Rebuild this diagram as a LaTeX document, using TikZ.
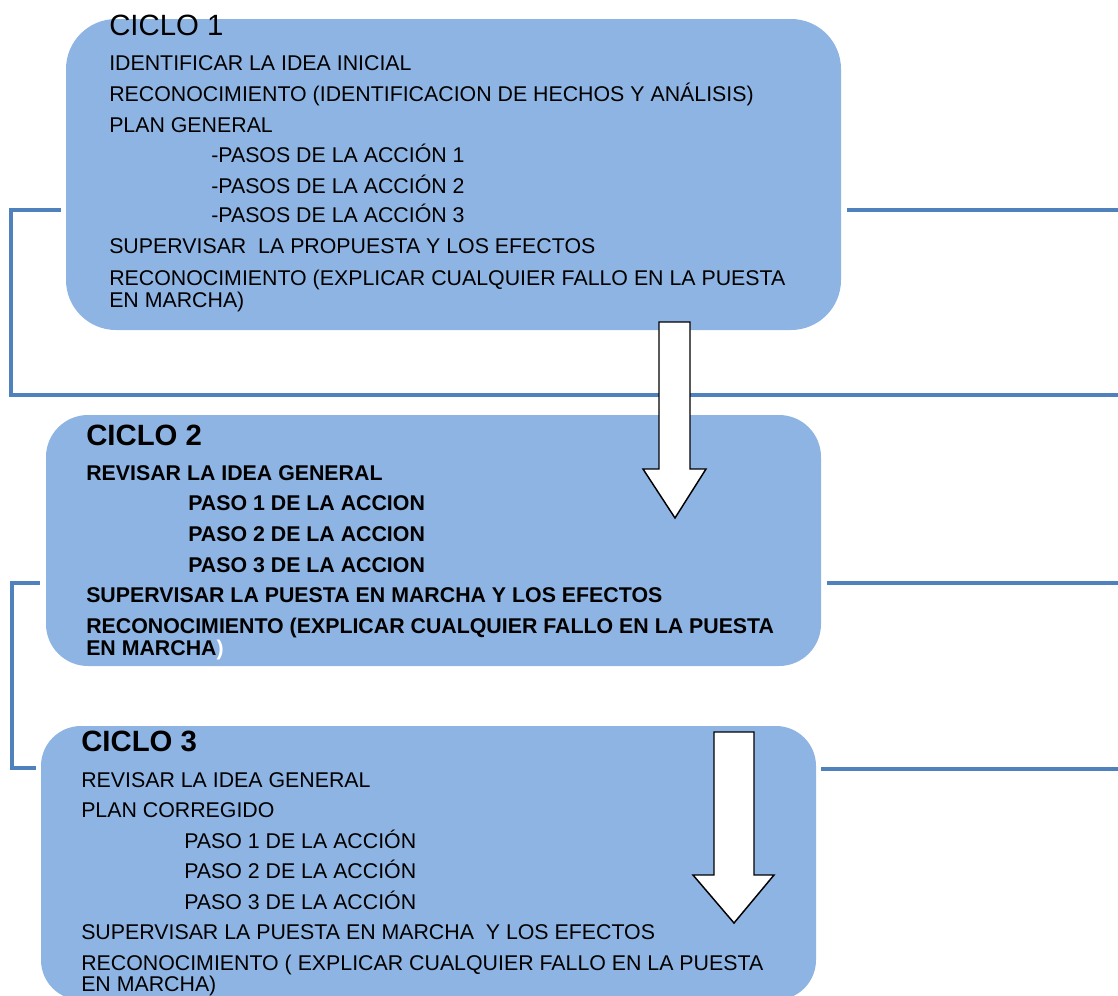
\documentclass[tikz,border=0pt]{standalone}
\usepackage{fontspec}
\setmainfont{Liberation Sans}
\definecolor{cajaazul}{HTML}{8EB4E3}
\definecolor{barraazul}{HTML}{4F81BD}

\begin{document}
\begin{tikzpicture}[x=0.75pt, y=-0.75pt,
        caja/.style={fill=cajaazul, draw=none, minimum width=581.25pt},
        barra/.style={draw=barraazul, line width=3.6pt},
        flecha/.style={fill=white, draw=black, line width=1.1pt, line join=miter},
        titulo/.style={anchor=base west, inner sep=0pt, font=\fontsize{22}{26}\selectfont},
        linea/.style={anchor=base west, inner sep=0pt, font=\fontsize{16}{19}\selectfont}]
            \useasboundingbox (0,0) rectangle (1118,996);

            % cajas de los ciclos
            \node[caja, rounded corners=37.5pt, minimum height=233.25pt] (ciclo1) at (453.5,174.5) {};
            \node[caja, rounded corners=31.5pt, minimum height=188.25pt] (ciclo2) at (433.5,540.5) {};
            \node[caja, rounded corners=30pt, minimum height=205.5pt] (ciclo3) at (428.5,863) {};

            % textos
            \node[titulo] (tit1) at (109,35) {CICLO 1};
            \foreach \y/\x/\t [count=\i] in {
                    70/109/IDENTIFICAR LA IDEA INICIAL,
                    101/109/RECONOCIMIENTO (IDENTIFICACION DE HECHOS Y ANÁLISIS),
                    132/109/PLAN GENERAL,
                    162/211/-PASOS DE LA ACCIÓN 1,
                    193/211/-PASOS DE LA ACCIÓN 2,
                    222/211/-PASOS DE LA ACCIÓN 3,
                    253/109/SUPERVISAR~ LA PROPUESTA Y LOS EFECTOS,
                    285/109/RECONOCIMIENTO (EXPLICAR CUALQUIER FALLO EN LA PUESTA,
                    307/109/EN MARCHA)}
                \node[linea] (a\i) at (\x,\y) {\t};

            \node[titulo, font=\fontsize{22}{26}\selectfont\bfseries] (tit2) at (86,445) {CICLO 2};
            \foreach \y/\x/\t [count=\i] in {
                    480/86/REVISAR LA IDEA GENERAL,
                    510/188/PASO 1 DE LA ACCION,
                    541/188/PASO 2 DE LA ACCION,
                    572/188/PASO 3 DE LA ACCION,
                    602/86/SUPERVISAR LA PUESTA EN MARCHA Y LOS EFECTOS,
                    633/86/RECONOCIMIENTO (EXPLICAR CUALQUIER FALLO EN LA PUESTA,
                    655/86/EN MARCHA\textcolor{white}{)}}
                \node[linea, font=\fontsize{16}{19}\selectfont\bfseries] (b\i) at (\x,\y) {\t};

            \node[titulo, font=\fontsize{22}{26}\selectfont\bfseries] (tit3) at (81,751) {CICLO 3};
            \foreach \y/\x/\t [count=\i] in {
                    787/81/REVISAR LA IDEA GENERAL,
                    817/81/PLAN CORREGIDO,
                    848/184/PASO 1 DE LA ACCIÓN,
                    878/184/PASO 2 DE LA ACCIÓN,
                    909/184/PASO 3 DE LA ACCIÓN,
                    939/81/SUPERVISAR LA PUESTA EN MARCHA~ Y LOS EFECTOS,
                    970/81/RECONOCIMIENTO ( EXPLICAR CUALQUIER FALLO EN LA PUESTA,
                    991/81/EN MARCHA)}
                \node[linea] (c\i) at (\x,\y) {\t};

            % barras azules
            \coordinate (p1) at (61,210);
            \coordinate (p2) at (11,210);
            \coordinate (p3) at (11,395);
            \coordinate (p4) at (1118,395);
            \coordinate (q1) at (847,210);
            \coordinate (q2) at (1118,210);
            \coordinate (p5) at (40,583);
            \coordinate (p6) at (12,583);
            \coordinate (p7) at (12,768);
            \coordinate (p8) at (36,768);
            \coordinate (q3) at (827,583);
            \coordinate (q4) at (1118,583);
            \coordinate (q5) at (821,769);
            \coordinate (q6) at (1118,769);
            \draw[barra] (p1) -- (p2) -- (p3) -- (p4);
            \draw[barra] (q1) -- (q2);
            \draw[barra] (p5) -- (p6) -- (p7) -- (p8);
            \draw[barra] (q3) -- (q4);
            \draw[barra] (q5) -- (q6);

            % flechas
            \draw[flecha] (659,322) -- (690,322) -- (690,469) -- (706,469) -- (675,518)
                -- (643,469) -- (659,469) -- cycle;
            \draw[flecha] (714,732) -- (754,732) -- (754,875) -- (774,875) -- (734,923)
                -- (693,875) -- (714,875) -- cycle;
        \end{tikzpicture}
\end{document}
